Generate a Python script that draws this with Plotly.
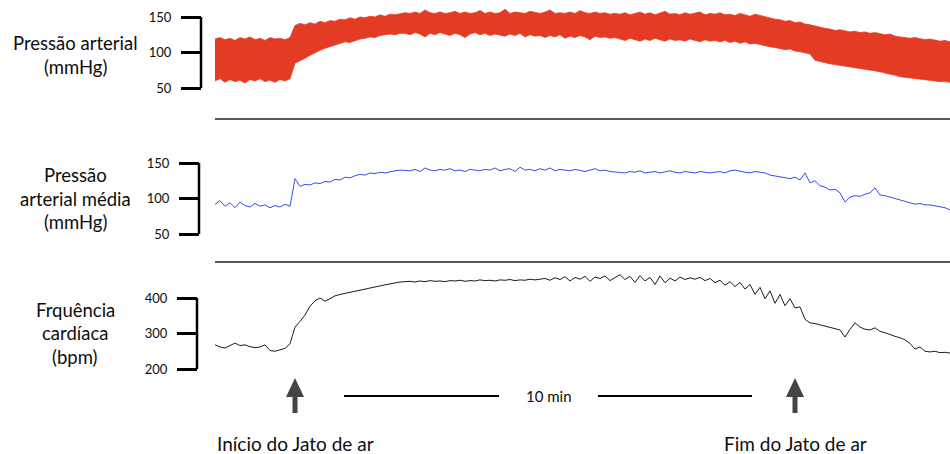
import numpy as np
import plotly.graph_objects as go

# ---------------- data ----------------
DT = 0.1  # minutes between samples
# Pressão arterial (mmHg): upper and lower envelope of the pulsatile trace
pa_top = ([119,121,118,120,117,121,119,122,118,120,117,121,119,120,118,121]
          + [138,141,139,142,140,144,142,145,144,147,146,149,147,150,149,151,150,153,151,154,153,155]
          + [156,155,157,155,160,156,155,157,155,156,158,155,157,155,156,159,155,157,155,156,161,155,
             157,156,155,158,156,155,157,160,155,156,155,157,155,159,156,155,157,155,156,154,155]
          + [154,156,153,155,157,154,156,153,155,158,154,155,153,156,154,155,157,153,155,154,156,153,
             154,152,155,153,151,154,152,150]
          + [148,147,146,144,145,142,143, 140,139,137,136, 134,133,131,132,130,129,
             130,128,129,127,128,127, 125,126,123,122,121,120, 121,119,118,119,117,116,117,115])
pa_bottom = ([60,63,58,62,59,61,57,62,60,63,59,61,58,62,60,63]
             + [85,88,92,96,100,103,106,108,110,112,115,114,117,119,120,122,121,124,125,126,125,127]
             + [127,125,128,126,122,127,125,128,126,124,127,125,121,126,128,125,127,124,126,125,123,126,
                124,127,122,125,123,124,121,124,122,125,120,123,121,124,122,118,123,121,122,120,121]
             + [119,117,120,118,116,119,117,120,118,116,119,117,118,116,119,117,115,118,116,117,115,117,
                114,116,113,115,112,113,111,110]
             + [108,107,106,104,105,102,101, 99,98,89,87, 86,84,83,82,81,80,
                79,78,77,75,74,73, 71,70,68,66,65,64, 63,62,61,61,60,59,59,58])
# Pressão arterial média (mmHg)
pam = ([92,97,89,94,87,95,90,88,93,89,91,87,90,88,92,89]
       + [128,117,120,119,122,121,124,123,127,126,130,129,132,134,133,136,135,137,136,138,139,140]
       + [140,139,141,138,143,140,139,141,140,142,139,140,138,141,140,139,141,140,143,139,141,142,
          138,144,140,141,139,142,140,143,139,141,140,139,141,140,138,140,142,139,140,138,137]
       + [137,136,138,137,139,136,137,138,136,137,139,137,136,138,137,136,138,137,136,137,138,136,
          139,140,138,137,136,138,137,136]
       + [133,132,131,129,128,130,126, 136,122,125,118, 116,112,113,108,95,102,
          104,103,106,108,115,105, 104,102,100,97,95,93, 92,93,91,91,90,89,87,84])
# Frequência cardíaca (bpm)
fc = ([268,262,259,265,273,266,268,263,260,262,268,252,250,254,258,271]
      + [318,334,352,377,392,400,391,398,406,410,414,416,419,423,425,428,430,434,437,440,443,445]
      + [446,447,445,448,446,449,447,448,446,449,448,450,447,449,448,451,449,450,448,451,450,452,
         449,451,450,453,451,452,455,450,457,452,460,448,458,453,461,447,459,455,462,449,458]
      + [466,452,461,444,463,448,458,438,462,443,456,448,459,452,457,453,458,449,455,443,450,436,
         446,432,444,425,438,410,430,398]
      + [420,385,410,378,398,372,375,340,330,328,324,321,318,314,310,290,312,330,318,312,
         310,316,306,302,296,292,288,282,272,256,262,250,248,250,246,247,245])
t = np.round(np.arange(len(fc)) * DT, 2)

tick_pa = [50, 100, 150]
tick_pam = [50, 100, 150]
tick_fc = [200, 300, 400]
t_inicio, t_fim = 1.6, 11.6
scale_label = "10 min"
labels_left = [["Pressão arterial", "(mmHg)"],
               ["Pressão", "arterial média", "(mmHg)"],
               ["Frquência", "cardíaca", "(bpm)"]]
event_labels = ["Início do Jato de ar", "Fim do Jato de ar"]

# ---------------- layout helpers ----------------
W, H = 950, 454
X0 = 215           # left edge of traces (px)
PX_PER_MIN = 50.0
FONT = "Lato, 'Open Sans', sans-serif"
RED = "#e43c24"
BLUE = "#3a4cf0"
BLACK = "#1e1e1e"
TXT = "#0d0d0d"

def py2paper(py):
    return 1 - py / H

def yaxis_cfg(dom_top, dom_bot, v_hi, py_hi, v_lo, py_lo, xpos, ticks):
    s = (v_hi - v_lo) / (py_lo - py_hi)   # units per px
    r_top = v_hi + (py_hi - dom_top) * s
    r_bot = v_lo - (dom_bot - py_lo) * s
    return dict(domain=[py2paper(dom_bot), py2paper(dom_top)], range=[r_bot, r_top],
                anchor="free", position=xpos / W, showgrid=False, zeroline=False,
                showline=False, ticks="outside", ticklen=20, tickwidth=2.5, tickcolor="black",
                tickvals=ticks, ticktext=[str(v) for v in ticks], ticklabelstandoff=7,
                tickfont=dict(family=FONT, size=13, color=TXT))

fig = go.Figure()
fig.add_trace(go.Scatter(x=t, y=pa_bottom, mode="lines", line=dict(color=RED, width=0.8),
                         xaxis="x", yaxis="y", hoverinfo="skip"))
fig.add_trace(go.Scatter(x=t, y=pa_top, mode="lines", line=dict(color=RED, width=0.8),
                         fill="tonexty", fillcolor=RED, xaxis="x", yaxis="y", hoverinfo="skip"))
fig.add_trace(go.Scatter(x=t, y=pam, mode="lines", line=dict(color=BLUE, width=1),
                         xaxis="x2", yaxis="y2", hoverinfo="skip"))
fig.add_trace(go.Scatter(x=t, y=fc, mode="lines", line=dict(color=BLACK, width=1),
                         xaxis="x3", yaxis="y3", hoverinfo="skip"))

xr = [0, (W - X0) / PX_PER_MIN]
xdom = [X0 / W, 1]
xcfg = dict(domain=xdom, range=xr, visible=False)

shapes = []
annotations = []
# brackets (vertical axis lines between min and max tick)
for yref, ticks, xpos in [("y", tick_pa, 201), ("y2", tick_pam, 199), ("y3", tick_fc, 197)]:
    shapes.append(dict(type="line", xref="paper", yref=yref, x0=xpos / W, x1=xpos / W,
                       y0=min(ticks), y1=max(ticks), line=dict(color="black", width=2.5)))
# separators
for py in [119, 262]:
    shapes.append(dict(type="line", xref="paper", yref="paper", x0=X0 / W, x1=1,
                       y0=py2paper(py), y1=py2paper(py), line=dict(color="#222", width=1.5)))
# arrows
for te in [t_inicio, t_fim]:
    hw, sw = 9 / PX_PER_MIN, 2.5 / PX_PER_MIN
    tip, neck, base = py2paper(378), py2paper(397), py2paper(413)
    path = (f"M {te},{tip} L {te+hw},{neck} L {te+sw},{neck} L {te+sw},{base} "
            f"L {te-sw},{base} L {te-sw},{neck} L {te-hw},{neck} Z")
    shapes.append(dict(type="path", xref="x3", yref="paper", path=path,
                       fillcolor="#444", line=dict(color="#444", width=0)))
# scale bar
for p0, p1 in [(344, 499), (598, 752)]:
    shapes.append(dict(type="line", xref="x3", yref="paper",
                       x0=(p0 - X0) / PX_PER_MIN, x1=(p1 - X0) / PX_PER_MIN,
                       y0=py2paper(396), y1=py2paper(396), line=dict(color="black", width=2)))
annotations.append(dict(text=scale_label, xref="x3", yref="paper", x=(549 - X0) / PX_PER_MIN,
                        y=py2paper(396), showarrow=False, xanchor="center", yanchor="middle",
                        font=dict(family=FONT, size=15, color=TXT)))
# left labels
line_y = [[43, 67], [175, 199, 222], [310, 333, 357]]
for lines, ys in zip(labels_left, line_y):
    for txt, py in zip(lines, ys):
        annotations.append(dict(text=txt, xref="paper", yref="paper", x=75 / W, y=py2paper(py),
                                showarrow=False, xanchor="center", yanchor="middle",
                                font=dict(family=FONT, size=18.5, color=TXT)))
# event labels
for te, txt in zip([t_inicio, t_fim], event_labels):
    annotations.append(dict(text=txt, xref="x3", yref="paper", x=te, y=py2paper(443),
                            showarrow=False, xanchor="center", yanchor="middle",
                            font=dict(family=FONT, size=19, color=TXT)))

fig.update_layout(
    width=W, height=H, margin=dict(l=0, r=0, t=0, b=0),
    paper_bgcolor="white", plot_bgcolor="white", showlegend=False,
    xaxis=dict(xcfg, anchor="y"), xaxis2=dict(xcfg, anchor="y2"), xaxis3=dict(xcfg, anchor="y3"),
    yaxis=yaxis_cfg(0, 118, 150, 17, 50, 88, 201, tick_pa),
    yaxis2=yaxis_cfg(122, 258, 150, 163, 50, 234, 199, tick_pam),
    yaxis3=yaxis_cfg(266, 376, 400, 298, 200, 369, 197, tick_fc),
    shapes=shapes, annotations=annotations,
)
fig.write_html("out.html")
